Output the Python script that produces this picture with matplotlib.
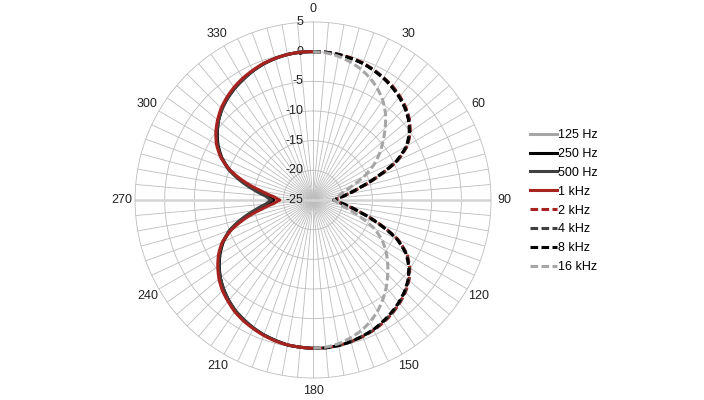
import numpy as np
import matplotlib.pyplot as plt
from matplotlib.transforms import offset_copy

plt.rcParams['font.family'] = ['Liberation Sans', 'DejaVu Sans']

# angles (deg, clockwise from top); left half = low bands, right half = high bands
angles_left = np.arange(180, 365, 5)
angles_right = np.arange(0, 185, 5)

# response in dB
hz125 = [0.0, -0.1, -0.2, -0.5, -0.8, -1.2, -1.7, -2.2, -2.9, -3.7, -4.6, -5.7, -6.9, -8.3, -10.1, -12.6, -15.2, -17.2, -18.2,
         -17.1, -15.0, -12.4, -9.9, -8.0, -6.5, -5.3, -4.2, -3.3, -2.6, -2.0, -1.5, -1.0, -0.6, -0.3, -0.1, 0.0, 0.0]
hz250 = [0.0, -0.1, -0.2, -0.5, -0.8, -1.2, -1.7, -2.2, -2.9, -3.7, -4.6, -5.7, -6.9, -8.3, -10.2, -12.8, -15.4, -17.4, -18.4,
         -17.3, -15.2, -12.6, -10.0, -8.0, -6.5, -5.3, -4.2, -3.3, -2.6, -2.0, -1.5, -1.0, -0.6, -0.3, -0.1, 0.0, 0.0]
hz500 = [0.0, -0.1, -0.2, -0.5, -0.8, -1.2, -1.7, -2.2, -2.9, -3.7, -4.6, -5.6, -6.8, -8.2, -10.0, -12.5, -15.0, -17.0, -18.0,
         -16.9, -14.8, -12.3, -9.8, -7.9, -6.4, -5.2, -4.2, -3.3, -2.6, -2.0, -1.5, -1.0, -0.6, -0.3, -0.1, 0.0, 0.0]
khz1 = [0.0, -0.1, -0.2, -0.4, -0.7, -1.1, -1.5, -2.0, -2.7, -3.4, -4.3, -5.4, -6.6, -8.1, -10.4, -13.3, -16.3, -18.4, -19.4,
        -18.3, -16.1, -13.0, -10.0, -7.8, -6.2, -5.0, -4.0, -3.1, -2.4, -1.8, -1.3, -0.9, -0.5, -0.3, -0.1, 0.0, 0.0]

khz2 = [0.0, 0.0, -0.1, -0.2, -0.4, -0.8, -1.2, -1.6, -2.2, -2.9, -3.8, -5.0, -6.6, -9.3, -13.3, -16.7, -19.0, -20.6, -21.5,
        -20.6, -19.0, -16.5, -13.0, -9.2, -6.7, -5.1, -3.9, -3.0, -2.3, -1.7, -1.2, -0.8, -0.5, -0.3, -0.1, 0.0, 0.0]
khz4 = [0.0, 0.0, -0.1, -0.3, -0.5, -0.8, -1.2, -1.7, -2.3, -3.0, -3.9, -5.1, -6.7, -9.4, -13.4, -16.8, -19.0, -20.6, -21.5,
        -20.6, -19.0, -16.6, -13.1, -9.3, -6.8, -5.2, -4.0, -3.1, -2.4, -1.8, -1.3, -0.9, -0.6, -0.3, -0.1, 0.0, 0.0]
khz8 = [0.0, 0.0, -0.1, -0.3, -0.5, -0.9, -1.3, -1.8, -2.4, -3.1, -4.0, -5.2, -6.8, -9.5, -13.5, -16.8, -19.0, -20.6, -21.5,
        -20.6, -19.0, -16.6, -13.2, -9.4, -6.9, -5.3, -4.1, -3.2, -2.5, -1.9, -1.4, -0.9, -0.6, -0.3, -0.1, 0.0, 0.0]
khz16 = [0.0, -0.1, -0.4, -0.9, -1.5, -2.3, -3.3, -4.5, -6.0, -7.8, -9.6, -11.3, -13.2, -15.4, -18.0, -19.6, -20.5, -21.1, -21.5,
         -21.0, -20.2, -18.8, -16.4, -13.6, -11.6, -10.0, -8.6, -7.2, -5.8, -4.5, -3.3, -2.3, -1.5, -0.9, -0.4, -0.1, 0.0]

r_ticks = [5, 0, -5, -10, -15, -20, -25]

fig = plt.figure(figsize=(7.04, 4), dpi=100)
ax = fig.add_axes([0.1918, 0.055, 0.5057, 0.89], projection='polar')
ax.set_theta_zero_location('N')
ax.set_theta_direction(-1)
ax.set_ylim(-25, 5)
ax.set_axisbelow(True)

ax.set_yticks([-20, -15, -10, -5, 0])
ax.set_yticklabels([])
ax.set_xticks(np.deg2rad(np.arange(0, 360, 5)))
ax.set_xticklabels([str(a) if a % 30 == 0 else '' for a in range(0, 360, 5)], fontsize=9, color='#222222')
ax.tick_params(axis='x', pad=-1)
ax.grid(color='#bdbdbd', lw=0.6)
ax.spines['polar'].set_color('#bdbdbd')
ax.spines['polar'].set_linewidth(0.6)

# the thicker horizontal axis line
for t in (90, 270):
    ax.plot([np.deg2rad(t)] * 2, [-25, 5], color='#d4d4d4', lw=1.8, zorder=1)

off = offset_copy(ax.transData, fig=fig, x=-7, y=0, units='points')
for v in r_ticks:
    ax.text(0, v, str(v), transform=off, ha='right', va='center', fontsize=9, color='#222222')

th_l = np.deg2rad(angles_left)
th_r = np.deg2rad(angles_right)
lw = 2.2
dash = (2.5, 1.1)

lines = []
lines += ax.plot(th_l, hz125, color='#a6a6a6', lw=lw, label='125 Hz', zorder=3)
lines += ax.plot(th_l, hz250, color='#000000', lw=lw, label='250 Hz', zorder=3)
lines += ax.plot(th_l, hz500, color='#404040', lw=lw, label='500 Hz', zorder=3)
lines += ax.plot(th_l, khz1, color='#a8221f', lw=lw, label='1 kHz', zorder=3)
lines += ax.plot(th_r, khz2, color='#a8221f', lw=lw, dashes=dash, label='2 kHz', zorder=3)
lines += ax.plot(th_r, khz4, color='#404040', lw=lw, dashes=dash, label='4 kHz', zorder=3)
lines += ax.plot(th_r, khz8, color='#000000', lw=lw, dashes=dash, label='8 kHz', zorder=3)
lines += ax.plot(th_r, khz16, color='#a6a6a6', lw=lw, dashes=dash, label='16 kHz', zorder=3)
# let the polar transform draw each segment as a curve
for ln in lines:
    ln.get_path()._interpolation_steps = 12

fig.legend(loc='upper left', bbox_to_anchor=(0.7528, 0.6775), frameon=False, fontsize=9,
           handlelength=2.15, handletextpad=0.12, labelspacing=0.55, borderpad=0, borderaxespad=0)

fig.savefig('out.png', dpi=100)
